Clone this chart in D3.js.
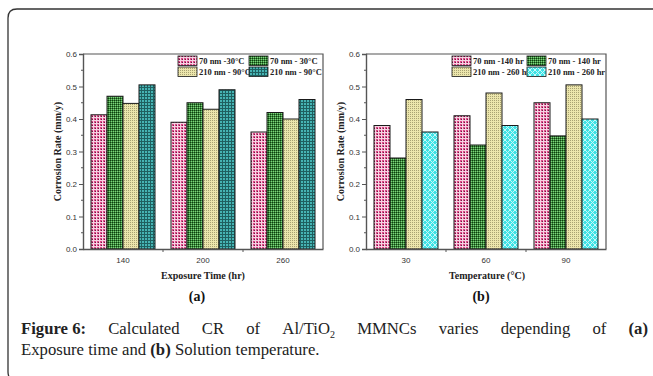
<!DOCTYPE html>
<html><head><meta charset="utf-8">
<script src="https://cdn.jsdelivr.net/npm/d3@7"></script>
<style>
html,body{margin:0;padding:0;background:#fff;}
svg{display:block;}
</style></head>
<body>
<script>
// ---- data ----
const catsA = ["140", "200", "260"];
const seriesA = ["70 nm -30°C", "70 nm - 30°C", "210 nm - 90°C", "210 nm - 90°C"];
const valsA_70a = [0.413, 0.390, 0.360];
const valsA_70b = [0.470, 0.450, 0.420];
const valsA_210a = [0.448, 0.430, 0.400];
const valsA_210b = [0.505, 0.490, 0.460];

const catsB = ["30", "60", "90"];
const seriesB = ["70 nm -140 hr", "70 nm - 140 hr", "210 nm - 260 hr", "210 nm - 260 hr"];
const valsB_70a = [0.380, 0.410, 0.450];
const valsB_70b = [0.280, 0.320, 0.348];
const valsB_210a = [0.460, 0.480, 0.505];
const valsB_210b = [0.360, 0.380, 0.400];

const yTicks = [0, 0.1, 0.2, 0.3, 0.4, 0.5, 0.6];

const W = 653, H = 376;
const svg = d3.select("body").append("svg").attr("width", W).attr("height", H);
const defs = svg.append("defs");

function pat(id, size, base, cells) {
  const p = defs.append("pattern").attr("id", id).attr("patternUnits", "userSpaceOnUse")
    .attr("width", size).attr("height", size);
  p.append("rect").attr("width", size).attr("height", size).attr("fill", base);
  cells.forEach(c => p.append("rect").attr("x", c[0]).attr("y", c[1]).attr("width", c[2]).attr("height", c[3]).attr("fill", c[4]));
}
pat("pPink", 3, "#dc4a88", [[0,0,3,1,"#f6d2e2"],[0,0,1,3,"#f6d2e2"],[2,2,1,1,"#6e1a40"]]);
pat("pGreen", 2, "#3a8c3a", [[0,0,1,1,"#103a10"],[1,1,1,1,"#7fcf7f"]]);
pat("pYellow", 2, "#ece6ac", [[0,0,1,1,"#a9a272"]]);
pat("pTeal", 3, "#46b4b4", [[0,0,3,1,"#1f6060"],[0,0,1,3,"#1f6060"]]);
(function(){
  const p = defs.append("pattern").attr("id","pCyan").attr("patternUnits","userSpaceOnUse").attr("width",5).attr("height",5);
  p.append("rect").attr("width",5).attr("height",5).attr("fill","#3fe3e6");
  p.append("path").attr("d","M0,0L5,5M5,0L0,5").attr("stroke","#c8f8f8").attr("stroke-width",1);
})();

// outer frame
svg.append("path")
  .attr("d", `M${W+5},9 L17,9 Q8,9 8,18 L8,372 Q8,378 14,384`)
  .attr("fill", "none").attr("stroke", "#333").attr("stroke-width", 1.3);

const serifBold = "'Liberation Serif', Tinos, 'Times New Roman', 'DejaVu Serif', serif";
const sans = "'Liberation Sans', Arimo, Arial, sans-serif";

function drawChart(opt) {
  const g = svg.append("g");
  const x0 = d3.scaleBand().domain(opt.cats).range([opt.left, opt.right]).paddingInner(0.2).paddingOuter(0.1);
  const x1 = d3.scaleBand().domain(d3.range(4)).range([0, x0.bandwidth()]);
  const y = d3.scaleLinear().domain([0, 0.6]).range([opt.bottom, opt.top]);

  opt.values.forEach((vals, si) => {
    g.selectAll(null).data(vals).enter().append("rect")
      .attr("x", (d, i) => x0(opt.cats[i]) + x1(si))
      .attr("y", d => y(d))
      .attr("width", x1.bandwidth())
      .attr("height", d => opt.bottom - y(d))
      .attr("fill", `url(#${opt.fills[si]})`)
      .attr("stroke", "#1a1a1a").attr("stroke-width", 1);
  });

  g.append("path").attr("d", `M${opt.left},${opt.top}H${opt.right}V${opt.bottom}`)
    .attr("fill", "none").attr("stroke", "#555").attr("stroke-width", 1.2);

  const ya = d3.axisLeft(y).tickValues(yTicks).tickFormat(d3.format(".1f")).tickSize(4).tickPadding(2);
  const yg = g.append("g").attr("transform", `translate(${opt.left},0)`).call(ya);
  yg.select(".domain").attr("stroke", "#555").attr("stroke-width", 1.4);
  yg.selectAll(".tick line").attr("stroke", "#555");
  yg.selectAll("text").attr("font-family", sans).attr("font-size", 8).attr("fill", "#333");
  const minor = d3.range(0.05, 0.6, 0.1);
  g.selectAll(null).data(minor).enter().append("line")
    .attr("x1", opt.left - 2).attr("x2", opt.left).attr("y1", d => y(d)).attr("y2", d => y(d))
    .attr("stroke", "#555");

  const xa = d3.axisBottom(x0).tickSize(0).tickPadding(8);
  const xg = g.append("g").attr("transform", `translate(0,${opt.bottom})`).call(xa);
  xg.select(".domain").attr("stroke", "#555").attr("stroke-width", 1.4);
  xg.selectAll("text").attr("font-family", sans).attr("font-size", 8).attr("fill", "#333");
  const bounds = opt.cats.slice(0, -1).map(c => x0(c) + x0.bandwidth() + x0.step() * 0.1);
  g.selectAll(null).data(bounds).enter().append("line")
    .attr("x1", d => d).attr("x2", d => d).attr("y1", opt.bottom).attr("y2", opt.bottom + 3)
    .attr("stroke", "#555");

  g.append("text").attr("transform", `translate(${opt.left - 22},${(opt.top + opt.bottom) / 2}) rotate(-90)`)
    .attr("text-anchor", "middle").attr("font-family", serifBold).attr("font-weight", "bold")
    .attr("font-size", 10).attr("fill", "#222").text("Corrosion Rate (mm/y)");
  g.append("text").attr("x", opt.xTitleX).attr("y", 279).attr("text-anchor", "middle")
    .attr("font-family", serifBold).attr("font-weight", "bold").attr("font-size", 10).attr("fill", "#222")
    .text(opt.xTitle);
  g.append("text").attr("x", opt.tagX).attr("y", 301).attr("text-anchor", "middle")
    .attr("font-family", serifBold).attr("font-weight", "bold").attr("font-size", 14).attr("fill", "#111")
    .text(opt.tag);

  opt.series.forEach((s, i) => {
    const col = i % 2, row = Math.floor(i / 2);
    const lx = opt.legX[col], ly = 56 + row * 11;
    g.append("rect").attr("x", lx).attr("y", ly).attr("width", 19).attr("height", 9.5)
      .attr("fill", `url(#${opt.fills[i]})`).attr("stroke", "#1a1a1a").attr("stroke-width", 0.8);
    g.append("text").attr("x", lx + 21).attr("y", ly + 8).attr("font-family", serifBold)
      .attr("font-weight", "bold").attr("font-size", 8.5).attr("fill", "#222").text(s);
  });
}

drawChart({
  left: 83, right: 323, top: 54, bottom: 249,
  cats: catsA, values: [valsA_70a, valsA_70b, valsA_210a, valsA_210b],
  fills: ["pPink", "pGreen", "pYellow", "pTeal"], series: seriesA,
  xTitle: "Exposure Time (hr)", xTitleX: 203, tag: "(a)", tagX: 197,
  legX: [178, 249]
});
drawChart({
  left: 366, right: 606, top: 54, bottom: 249,
  cats: catsB, values: [valsB_70a, valsB_70b, valsB_210a, valsB_210b],
  fills: ["pPink", "pGreen", "pYellow", "pCyan"], series: seriesB,
  xTitle: "Temperature (°C)", xTitleX: 487, tag: "(b)", tagX: 481,
  legX: [452, 527]
});

// caption
const capFont = "'Liberation Serif', Tinos, 'Times New Roman', 'DejaVu Serif', serif";
const capSize = 16.7;
const line1 = [
  {t: "Figure 6:", b: true}, {t: "Calculated"}, {t: "CR"}, {t: "of"}, {t: "Al/TiO", sub: "2"},
  {t: "MMNCs"}, {t: "varies"}, {t: "depending"}, {t: "of"}, {t: "(a)", b: true}
];
const capX0 = 21, capX1 = 648, capY1 = 334, capY2 = 355;
const cg = svg.append("g").attr("font-family", capFont).attr("font-size", capSize).attr("fill", "#222");
const nodes = line1.map(w => {
  const t = cg.append("text").attr("y", capY1).attr("font-weight", w.b ? "bold" : "normal");
  t.append("tspan").text(w.t);
  if (w.sub) t.append("tspan").attr("font-size", 10).attr("dy", 4).text(w.sub);
  return t;
});
const widths = nodes.map(n => n.node().getComputedTextLength());
const total = d3.sum(widths);
const gap = (capX1 - capX0 - total) / (nodes.length - 1);
let cx = capX0;
nodes.forEach((n, i) => { n.attr("x", cx); cx += widths[i] + gap; });

const l2 = cg.append("text").attr("x", capX0).attr("y", capY2);
l2.append("tspan").text("Exposure time and ");
l2.append("tspan").attr("font-weight", "bold").text("(b)");
l2.append("tspan").text(" Solution temperature.");
</script>
</body></html>
